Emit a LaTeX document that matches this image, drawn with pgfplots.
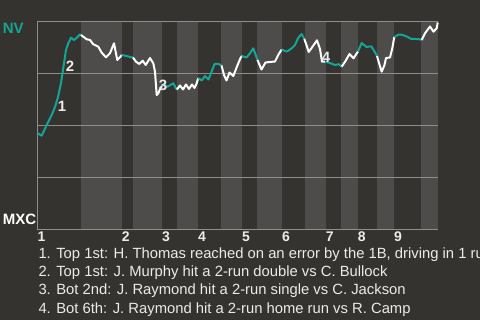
\documentclass[border=0pt]{standalone}
\usepackage{pgfplots}
\pgfplotsset{compat=1.18}
\usepackage{fontspec}
\setmainfont{Liberation Sans}
\definecolor{bg}{HTML}{35332F}
\definecolor{band}{HTML}{4D4C4A}
\definecolor{gridc}{HTML}{8E8E8C}
\definecolor{tealc}{HTML}{13A596}
\definecolor{txt}{HTML}{EBEBEB}
\begin{document}
\begin{tikzpicture}
\fill[bg] (0pt,0pt) rectangle (480pt,320pt);
% half-inning shading (bottom halves)
\foreach \a/\b in {81/121.7,133/162,177/198,221/242,257/282,305/325.7,340.7/357.7,377/394,421/437.7}
  \fill[band] (\a pt,90pt) rectangle (\b pt,298pt);
\begin{axis}[
  at={(37.5pt,90pt)}, anchor=south west,
  scale only axis, width=400.2pt, height=208pt,
  xmin=37.5, xmax=437.7, ymin=0, ymax=208,
  axis x line*=bottom, axis y line*=left,
  axis line style={gridc, line width=1pt, -},
  ytick={0,52,104,156,208}, yticklabels={},
  ymajorgrids, grid style={gridc, line width=1pt},
  major tick length=0pt,
  xtick={37.5,121.7,162,198,242,282,325.7,357.7,394},
  xticklabels={1,2,3,4,5,6,7,8,9},
  xticklabel style={anchor=north west, inner sep=0pt, yshift=-2pt,
    font=\bfseries\fontsize{14}{14}\selectfont, text=txt},
  clip=false,
]
% top 1st
\addplot[tealc, line width=2pt, line join=round] coordinates {(37.7,96.7) (41.7,94.3) (46.7,105) (51.7,115) (55,123) (58,133) (61,147) (63.3,162) (66,180) (68.3,186.7) (71,192.3) (74,190) (77,192.5) (80,195.7) (81,195)};
% bot 1st
\addplot[white, line width=2pt, line join=round] coordinates {(81,195) (86.7,190.7) (90,190) (93.3,185.7) (98.3,183.3) (101.7,177.3) (106,172.7) (110,176.7) (114,186.7) (117.3,170) (120,172.7) (121.7,175)};
% top 2nd
\addplot[tealc, line width=2pt, line join=round] coordinates {(121.7,175) (126.7,174) (130,173) (133,172.5)};
% bot 2nd
\addplot[white, line width=2pt, line join=round] coordinates {(133,172.5) (136,168.3) (139.3,166) (142.7,169.3) (145.7,165) (150,172) (153.3,166.7) (155,158.3) (156.7,135) (158.3,136.7) (160,141) (162,144)};
% top 3rd
\addplot[tealc, line width=2pt, line join=round] coordinates {(162,144) (164.3,146) (166.7,143) (170.5,145) (173.3,146.7) (176.7,140.5) (177,140.5)};
% bot 3rd
\addplot[white, line width=2pt, line join=round] coordinates {(177,140.5) (180,144.5) (183,140.5) (186,145.5) (189,141) (192,145.5) (194.5,142) (196.7,146.7) (198.3,152)};
% top 4th
\addplot[tealc, line width=2pt, line join=round] coordinates {(198.3,152) (201.7,149.5) (205,154) (208.5,150.5) (211,157) (213,162) (214.5,166) (218.5,166) (221.5,164.5)};
% bot 4th
\addplot[white, line width=2pt, line join=round] coordinates {(221.5,164.5) (224,155) (226.5,149.5) (229.5,157.5) (233.3,154) (237,163.5) (240.5,172) (242,174)};
% top 5th
\addplot[tealc, line width=2pt, line join=round] coordinates {(242,174) (246.5,172.5) (250,176.7) (253.3,181.7) (255.7,175) (257.5,170)};
% bot 5th
\addplot[white, line width=2pt, line join=round] coordinates {(257.5,170) (261.5,160.5) (265.5,167.5) (270,168) (275,168.5) (278.5,175.5) (281.7,180.5)};
% top 6th
\addplot[tealc, line width=2pt, line join=round] coordinates {(281.7,180.5) (285,179) (287,178.5) (291.7,181.7) (295,185) (298.3,192.3) (301.7,196) (304.3,191)};
% bot 6th
\addplot[white, line width=2pt, line join=round] coordinates {(304.3,191) (306.7,184.3) (308.7,178) (313,184) (317,189.7) (320,181) (322,168.3) (325,168.3)};
% top 7th
\addplot[tealc, line width=2pt, line join=round] coordinates {(325,168.3) (330,167) (335,165) (339,165.8) (341.7,163.3)};
% bot 7th
\addplot[white, line width=2pt, line join=round] coordinates {(341.7,163.3) (345.5,169) (349.5,176) (353.5,171.7) (358,178.5)};
% top 8th
\addplot[tealc, line width=2pt, line join=round] coordinates {(358,178.5) (361.7,187) (366.5,183) (371.3,183.7) (374.5,178.5) (377,174)};
% bot 8th
\addplot[white, line width=2pt, line join=round] coordinates {(377,174) (379.3,166) (381.7,158.3) (384.5,165) (386,172) (390,172.5) (392.3,181.7) (394.3,193)};
% top 9th
\addplot[tealc, line width=2pt, line join=round] coordinates {(394.3,193) (398.5,195.4) (402,195.2) (406.7,193.5) (411,191.2) (420,190.7) (421.7,190)};
% bot 9th
\addplot[white, line width=2pt, line join=round] coordinates {(421.7,190) (425,196.7) (430,203.5) (433.5,198.3) (436.7,201.7) (437.7,207.5)};
\node[font=\bfseries\fontsize{15}{15}\selectfont, text=txt, inner sep=0pt] at (axis cs:62,124) {1};
\node[font=\bfseries\fontsize{15}{15}\selectfont, text=txt, inner sep=0pt] at (axis cs:70,163.3) {2};
\node[font=\bfseries\fontsize{15}{15}\selectfont, text=txt, inner sep=0pt] at (axis cs:163,144.5) {3};
\node[font=\bfseries\fontsize{15}{15}\selectfont, text=txt, inner sep=0pt] at (axis cs:326,172.5) {4};
\end{axis}
\node[anchor=base west, inner sep=0pt, font=\bfseries\fontsize{15}{15}\selectfont, text=tealc] at (2.7pt,286.7pt) {NV};
\node[anchor=base west, inner sep=0pt, font=\bfseries\fontsize{15}{15}\selectfont, text=white] at (2.7pt,95pt) {MXC};
\begin{scope}
\clip (0pt,0pt) rectangle (480pt,320pt);
\begin{scope}[every node/.style={anchor=base west, inner sep=0pt, font=\fontsize{14.8}{15}\selectfont, text=txt}]
\node at (38.3pt,61.7pt) {1. Top 1st: H. Thomas reached on an error by the 1B, driving in 1 run};
\node at (38.3pt,43.4pt) {2. Top 1st: J. Murphy hit a 2-run double vs C. Bullock};
\node at (38.3pt,25pt) {3. Bot 2nd: J. Raymond hit a 2-run single vs C. Jackson};
\node at (38.3pt,6.7pt) {4. Bot 6th: J. Raymond hit a 2-run home run vs R. Camp};
\end{scope}
\end{scope}
\pgfresetboundingbox
\useasboundingbox (0pt,0pt) rectangle (480pt,320pt);
\end{tikzpicture}
\end{document}
